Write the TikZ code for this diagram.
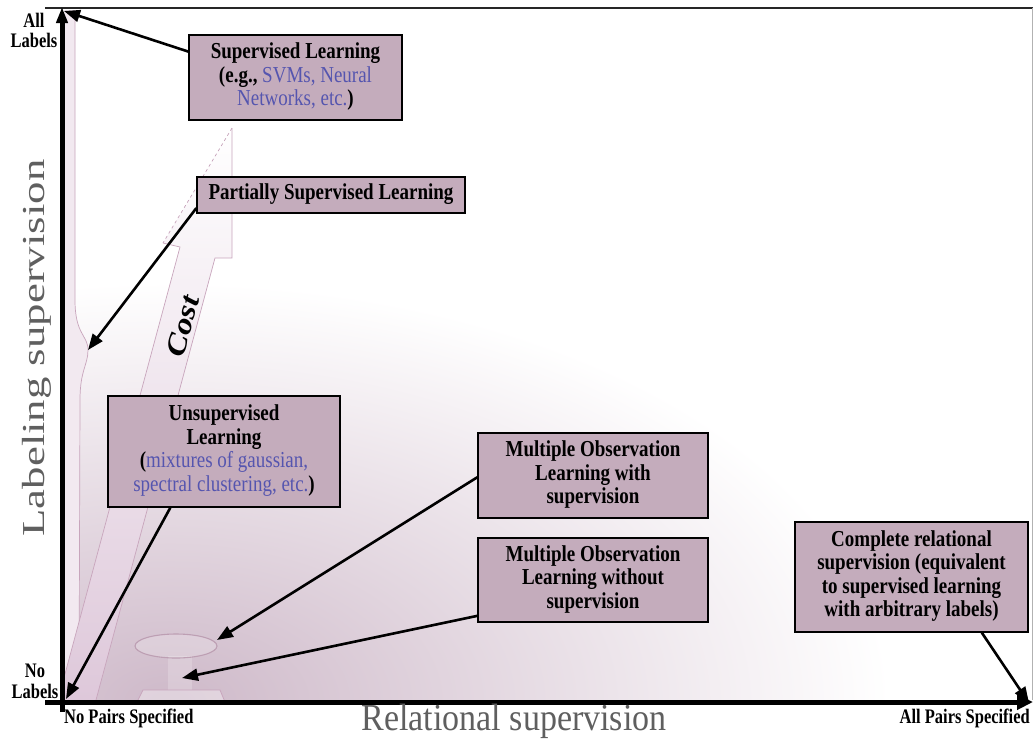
\documentclass[tikz,border=0pt]{standalone}
\usepackage{fontspec}
\usepackage{graphicx}
\setmainfont{Liberation Serif}
\usetikzlibrary{arrows.meta,calc}
\definecolor{boxfill}{RGB}{196,172,188}
\definecolor{bluetxt}{RGB}{85,85,175}
\definecolor{haze}{RGB}{206,185,201}
\definecolor{pinkline}{RGB}{200,165,188}
\definecolor{axtitle}{RGB}{95,95,95}
\definecolor{costfill}{RGB}{222,200,218}
\newcommand{\bl}[1]{{\color{bluetxt}\mdseries #1}}
\newcommand{\bx}[2][1.2]{\scalebox{1}[#1]{\begin{tabular}{@{}c@{}}#2\end{tabular}}}
\tikzset{
  cbox/.style={draw=black, line width=1.3pt, fill=boxfill,
    font=\fontsize{19}{19.6}\selectfont\bfseries, inner sep=0pt},
  pointer/.style={line width=2.6pt, -{Triangle[length=16pt,width=12pt]}},
  axisline/.style={line width=5pt},
  small/.style={font=\fontsize{16.5}{16}\selectfont\bfseries, inner sep=0pt},
  axtitlestyle/.style={text=axtitle, inner sep=0pt},
  faint/.style={draw=pinkline, line width=0.7pt}
}
\begin{document}
\begin{tikzpicture}[x=1pt,y=-1pt]
\useasboundingbox (0,0) rectangle (1033,742);

% background haze
\begin{scope}
  \clip (64,10) rectangle (1030,700);
  \shade[inner color=haze, outer color=white] (170,702) ellipse [x radius=720, y radius=420];
  % left band near the y axis
  \fill[costfill!40] (64,10) -- (75,10) -- (75,300) .. controls (75,335) and (88,335) .. (88,350)
     .. controls (88,365) and (80,370) .. (80,400) -- (79,700) -- (64,700) -- cycle;
  \draw[faint] (75,10) -- (75,300) .. controls (75,335) and (88,335) .. (88,350)
     .. controls (88,365) and (80,370) .. (80,400) -- (79,700);
  % cost arrow
  \path[top color=white, bottom color=costfill]
     (232,128) -- (163,243) -- (180,247) -- (58,700) -- (96,700) -- (215,258) -- (232,258) -- cycle;
  \draw[faint] (163,243) -- (180,247) -- (58,700);
  \draw[faint] (96,700) -- (215,258) -- (232,258) -- (232,128);
  \draw[faint, dashed] (232,128) -- (163,243);
  % ellipse and pedestal
  \fill[white, opacity=0.2] (168,656) rectangle (192,690);
  \draw[draw=pinkline!85!gray, line width=1.1pt, fill=white, fill opacity=0.2] (176,646) ellipse [x radius=41, y radius=12];
  \draw[draw=pinkline, line width=0.8pt, fill=white, fill opacity=0.35] (137,702) -- (143,690) -- (220,690) -- (225,702);
\end{scope}

% frame and axes
\coordinate (tl) at (45,8);
\coordinate (tr) at (1033,8);
\coordinate (tr2) at (1032,8);
\coordinate (br) at (1032,700);
\coordinate (ybot) at (62,712);
\coordinate (ytop) at (62,7);
\coordinate (xleft) at (45,702);
\coordinate (xright) at (1033,702);
\draw[line width=2.2pt, black!85] (tl) -- (tr);
\draw[black!30, line width=0.8pt] (tr2) -- (br);
\draw[axisline, -{Triangle[length=16pt,width=11pt]}] (ybot) -- (ytop);
\draw[axisline, -{Triangle[length=16pt,width=15pt]}] (xleft) -- (xright);

% boxes
\node[cbox, minimum width=213pt, minimum height=85pt] (sup) at (295.5,77.5)
  {\bx{Supervised Learning\\(e.g., \bl{SVMs, Neural}\\\bl{Networks, etc.})}};
\node[cbox, minimum width=268pt, minimum height=36pt] (part) at (331,195)
  {\bx{Partially Supervised Learning}};
\node[cbox, minimum width=232pt, minimum height=111pt] (unsup) at (224,451.5)
  {\bx{Unsupervised\\Learning\\(\bl{mixtures of gaussian,}\\\bl{spectral clustering, etc.})}};
\node[cbox, minimum width=230pt, minimum height=85pt] (mowith) at (593,475.5)
  {\bx{Multiple Observation\\Learning with\\supervision}};
\node[cbox, minimum width=230pt, minimum height=84pt] (mowo) at (593,580)
  {\bx{Multiple Observation\\Learning without\\supervision}};
\node[cbox, minimum width=233pt, minimum height=110pt] (complete) at (911.5,577)
  {\bx{Complete relational\\supervision (equivalent\\to supervised learning\\with arbitrary labels)}};

% arrow targets
\coordinate (tSup) at (64,11);
\coordinate (tPart) at (88,350);
\coordinate (tUnsup) at (66,699);
\coordinate (tWith) at (217,640);
\coordinate (tWo) at (182,678);
\coordinate (tComp) at (1029,703);

\draw[pointer] ($(sup.north west)!0.2!(sup.south west)$) -- (tSup);
\draw[pointer] ($(part.north west)!0.85!(part.south west)$) -- (tPart);
\draw[pointer] ($(unsup.south west)!0.27!(unsup.south east)$) -- (tUnsup);
\draw[pointer] ($(mowith.north west)!0.52!(mowith.south west)$) -- (tWith);
\draw[pointer] ($(mowo.north west)!0.92!(mowo.south west)$) -- (tWo);
\draw[pointer] ($(complete.south west)!0.8!(complete.south east)$) -- (tComp);

% cost label
\node[rotate=75, font=\fontsize{28}{28}\selectfont\bfseries\itshape, inner sep=0pt] (cost) at (183,326) {\scalebox{1.2}[1]{Cost}};

% axis labels
\node[small] (alllab) at (34,33) {\bx[1.25]{All\\Labels}};
\node[small] (nolab) at (35,684) {\bx[1.25]{No\\Labels}};
\node[small, anchor=west] (nopairs) at (64,719) {\bx[1.25]{No Pairs Specified}};
\node[small, anchor=east] (allpairs) at (1030,719) {\bx[1.25]{All Pairs Specified}};
\node[axtitlestyle, font=\fontsize{34}{34}\selectfont] (relsup) at (514,721) {\scalebox{1}[1.12]{Relational supervision}};
\node[axtitlestyle, rotate=90, font=\fontsize{32}{32}\selectfont] (labsup) at (37,348) {\scalebox{1.4}[1]{Labeling supervision}};
\end{tikzpicture}
\end{document}
